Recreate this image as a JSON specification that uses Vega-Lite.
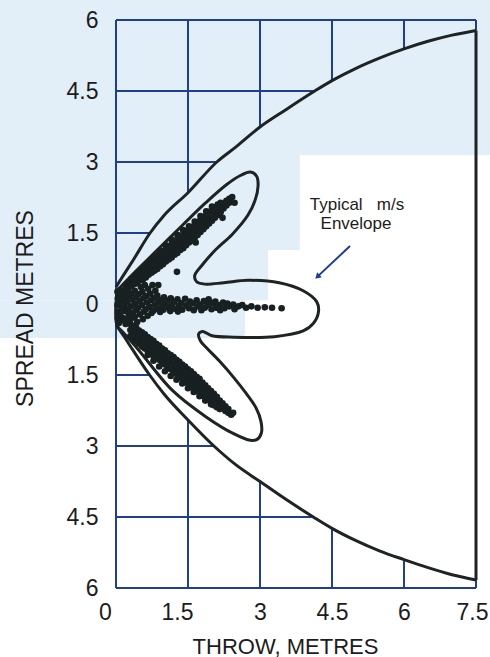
{
"$schema": "https://vega.github.io/schema/vega-lite/v6.json",
"width": 360,
"height": 568,
"autosize": {"type": "none"},
"padding": {"left": 116, "top": 20, "right": 14, "bottom": 69},
"background": "white",
"view": {"stroke": null},
"config": {"font": "Liberation Sans"},
"datasets": {
"tint": [
{"x": -2.5, "x2": 8.0, "y": 3.15, "y2": 6.5},
{"x": -2.5, "x2": 3.83, "y": 1.14, "y2": 3.15},
{"x": -2.5, "x2": 3.17, "y": 0.08, "y2": 1.14},
{"x": -2.5, "x2": 2.69, "y": -0.72, "y2": 0.08}
],
"grid": [
{"x": 0, "x2": 0, "y": -6, "y2": 6},
{"x": 0, "x2": 7.5, "y": 6, "y2": 6},
{"x": 0, "x2": 7.5, "y": -6, "y2": -6},
{"x": 7.5, "x2": 7.5, "y": 5.78, "y2": 6},
{"x": 7.5, "x2": 7.5, "y": -5.83, "y2": -6},
{"x": 1.5, "x2": 1.5, "y": 2.35, "y2": 6},
{"x": 1.5, "x2": 1.5, "y": -2.45, "y2": -6},
{"x": 3, "x2": 3, "y": 3.74, "y2": 6},
{"x": 3, "x2": 3, "y": -3.75, "y2": -6},
{"x": 4.5, "x2": 4.5, "y": 4.72, "y2": 6},
{"x": 4.5, "x2": 4.5, "y": -4.74, "y2": -6},
{"x": 6, "x2": 6, "y": 5.39, "y2": 6},
{"x": 6, "x2": 6, "y": -5.4, "y2": -6},
{"x": 0, "x2": 0.71, "y": 1.5, "y2": 1.5},
{"x": 0, "x2": 0.70, "y": -1.5, "y2": -1.5},
{"x": 0, "x2": 2.10, "y": 3, "y2": 3},
{"x": 0, "x2": 2.04, "y": -3, "y2": -3},
{"x": 0, "x2": 4.14, "y": 4.5, "y2": 4.5},
{"x": 0, "x2": 4.11, "y": -4.5, "y2": -4.5}
],
"edge": [{"x": 7.5, "x2": 7.5, "y": 5.78, "y2": -5.83}],
"env": [
{"s": "u", "x": 0, "y": 0.36}, {"s": "u", "x": 0.15, "y": 0.6}, {"s": "u", "x": 0.36, "y": 0.93}, {"s": "u", "x": 0.71, "y": 1.5},
{"s": "u", "x": 1.0, "y": 1.87}, {"s": "u", "x": 1.5, "y": 2.35}, {"s": "u", "x": 2.1, "y": 3.0}, {"s": "u", "x": 2.5, "y": 3.32},
{"s": "u", "x": 3.0, "y": 3.74}, {"s": "u", "x": 3.5, "y": 4.08}, {"s": "u", "x": 4.14, "y": 4.5}, {"s": "u", "x": 4.5, "y": 4.72},
{"s": "u", "x": 5.0, "y": 4.98}, {"s": "u", "x": 5.5, "y": 5.2}, {"s": "u", "x": 6.0, "y": 5.39}, {"s": "u", "x": 6.5, "y": 5.55},
{"s": "u", "x": 7.0, "y": 5.68}, {"s": "u", "x": 7.5, "y": 5.78},
{"s": "l", "x": 0, "y": -0.44}, {"s": "l", "x": 0.15, "y": -0.66}, {"s": "l", "x": 0.35, "y": -0.97}, {"s": "l", "x": 0.7, "y": -1.5},
{"s": "l", "x": 1.0, "y": -1.9}, {"s": "l", "x": 1.5, "y": -2.45}, {"s": "l", "x": 2.04, "y": -3.0}, {"s": "l", "x": 2.5, "y": -3.4},
{"s": "l", "x": 3.0, "y": -3.75}, {"s": "l", "x": 3.5, "y": -4.1}, {"s": "l", "x": 4.11, "y": -4.5}, {"s": "l", "x": 4.5, "y": -4.74},
{"s": "l", "x": 5.0, "y": -5.0}, {"s": "l", "x": 5.5, "y": -5.22}, {"s": "l", "x": 6.0, "y": -5.4}, {"s": "l", "x": 6.5, "y": -5.57},
{"s": "l", "x": 7.0, "y": -5.72}, {"s": "l", "x": 7.5, "y": -5.83}
],
"trident": [
{"o": 1, "x": 0.02, "y": 0.28}, {"o": 2, "x": 0.40, "y": 0.68}, {"o": 3, "x": 0.89, "y": 1.17}, {"o": 4, "x": 1.40, "y": 1.68},
{"o": 5, "x": 1.87, "y": 2.14}, {"o": 6, "x": 2.30, "y": 2.52}, {"o": 7, "x": 2.60, "y": 2.72}, {"o": 8, "x": 2.80, "y": 2.79},
{"o": 9, "x": 2.93, "y": 2.70}, {"o": 10, "x": 2.96, "y": 2.50}, {"o": 11, "x": 2.90, "y": 2.20}, {"o": 12, "x": 2.75, "y": 1.88},
{"o": 13, "x": 2.42, "y": 1.47}, {"o": 14, "x": 2.08, "y": 1.15}, {"o": 15, "x": 1.80, "y": 0.83}, {"o": 16, "x": 1.64, "y": 0.60},
{"o": 17, "x": 1.68, "y": 0.47}, {"o": 18, "x": 1.85, "y": 0.42}, {"o": 19, "x": 2.25, "y": 0.45}, {"o": 20, "x": 2.75, "y": 0.50},
{"o": 21, "x": 3.40, "y": 0.45}, {"o": 22, "x": 3.90, "y": 0.28}, {"o": 23, "x": 4.18, "y": 0.05}, {"o": 24, "x": 4.22, "y": -0.15},
{"o": 25, "x": 4.12, "y": -0.40}, {"o": 26, "x": 3.90, "y": -0.57}, {"o": 27, "x": 3.30, "y": -0.69}, {"o": 28, "x": 2.45, "y": -0.70},
{"o": 29, "x": 2.00, "y": -0.67}, {"o": 30, "x": 1.80, "y": -0.58}, {"o": 31, "x": 1.72, "y": -0.64}, {"o": 32, "x": 1.76, "y": -0.78},
{"o": 33, "x": 1.88, "y": -0.92}, {"o": 34, "x": 2.15, "y": -1.20}, {"o": 35, "x": 2.45, "y": -1.55}, {"o": 36, "x": 2.72, "y": -1.90},
{"o": 37, "x": 2.92, "y": -2.20}, {"o": 38, "x": 3.02, "y": -2.48}, {"o": 39, "x": 3.03, "y": -2.72}, {"o": 40, "x": 2.94, "y": -2.86},
{"o": 41, "x": 2.80, "y": -2.88}, {"o": 42, "x": 2.45, "y": -2.74}, {"o": 43, "x": 1.87, "y": -2.38}, {"o": 44, "x": 1.17, "y": -1.82},
{"o": 45, "x": 0.47, "y": -0.97}, {"o": 46, "x": 0.15, "y": -0.60}, {"o": 47, "x": 0.02, "y": -0.45}, {"o": 48, "x": 0.02, "y": 0.28}
],
"pts": [
{"x":0.20,"y":0.30},{"x":0.20,"y":0.40},
{"x":0.26,"y":0.34},{"x":0.26,"y":0.46},{"x":0.26,"y":0.40},
{"x":0.32,"y":0.38},{"x":0.32,"y":0.50},{"x":0.32,"y":0.53},
{"x":0.38,"y":0.42},{"x":0.38,"y":0.54},{"x":0.38,"y":0.58},
{"x":0.44,"y":0.44},{"x":0.44,"y":0.58},{"x":0.44,"y":0.64},{"x":0.44,"y":0.52},
{"x":0.50,"y":0.50},{"x":0.50,"y":0.62},{"x":0.50,"y":0.70},
{"x":0.56,"y":0.52},{"x":0.56,"y":0.66},{"x":0.56,"y":0.76},{"x":0.56,"y":0.60},
{"x":0.62,"y":0.56},{"x":0.62,"y":0.70},{"x":0.62,"y":0.82},
{"x":0.68,"y":0.62},{"x":0.68,"y":0.76},{"x":0.68,"y":0.88},{"x":0.68,"y":0.68},
{"x":0.74,"y":0.66},{"x":0.74,"y":0.80},{"x":0.74,"y":0.94},
{"x":0.80,"y":0.70},{"x":0.80,"y":0.84},{"x":0.80,"y":0.98},{"x":0.80,"y":1.00},
{"x":0.86,"y":0.74},{"x":0.86,"y":0.88},{"x":0.86,"y":1.02},{"x":0.86,"y":0.94},
{"x":0.92,"y":0.80},{"x":0.92,"y":0.94},{"x":0.92,"y":1.08},{"x":0.92,"y":1.12},
{"x":0.98,"y":0.84},{"x":0.98,"y":0.98},{"x":0.98,"y":1.12},{"x":0.98,"y":1.04},
{"x":1.04,"y":0.90},{"x":1.04,"y":1.04},{"x":1.04,"y":1.18},{"x":1.04,"y":1.24},
{"x":1.10,"y":0.94},{"x":1.10,"y":1.08},{"x":1.10,"y":1.22},{"x":1.10,"y":1.14},
{"x":1.16,"y":0.98},{"x":1.16,"y":1.12},{"x":1.16,"y":1.26},{"x":1.16,"y":1.36},
{"x":1.22,"y":1.04},{"x":1.22,"y":1.18},{"x":1.22,"y":1.32},{"x":1.22,"y":1.24},
{"x":1.28,"y":1.08},{"x":1.28,"y":1.22},{"x":1.28,"y":1.36},{"x":1.28,"y":1.46},
{"x":1.34,"y":1.14},{"x":1.34,"y":1.28},{"x":1.34,"y":1.42},{"x":1.34,"y":1.34},
{"x":1.40,"y":1.18},{"x":1.40,"y":1.32},{"x":1.40,"y":1.46},{"x":1.40,"y":1.56},
{"x":1.46,"y":1.24},{"x":1.46,"y":1.38},{"x":1.46,"y":1.52},{"x":1.46,"y":1.44},
{"x":1.52,"y":1.30},{"x":1.52,"y":1.42},{"x":1.52,"y":1.56},{"x":1.52,"y":1.64},
{"x":1.58,"y":1.34},{"x":1.58,"y":1.48},{"x":1.58,"y":1.62},{"x":1.58,"y":1.54},
{"x":1.64,"y":1.40},{"x":1.64,"y":1.52},{"x":1.64,"y":1.66},{"x":1.64,"y":1.74},
{"x":1.70,"y":1.46},{"x":1.70,"y":1.58},{"x":1.70,"y":1.72},{"x":1.70,"y":1.64},
{"x":1.76,"y":1.52},{"x":1.76,"y":1.64},{"x":1.76,"y":1.78},{"x":1.76,"y":1.86},
{"x":1.82,"y":1.58},{"x":1.82,"y":1.70},{"x":1.82,"y":1.82},{"x":1.82,"y":1.76},
{"x":1.88,"y":1.64},{"x":1.88,"y":1.76},{"x":1.88,"y":1.88},{"x":1.88,"y":1.96},
{"x":1.94,"y":1.70},{"x":1.94,"y":1.82},{"x":1.94,"y":1.94},
{"x":2.00,"y":1.76},{"x":2.00,"y":1.88},{"x":2.00,"y":2.00},{"x":2.00,"y":2.06},
{"x":2.06,"y":1.82},{"x":2.06,"y":1.94},{"x":2.06,"y":2.04},
{"x":2.12,"y":1.88},{"x":2.12,"y":2.00},{"x":2.12,"y":2.10},
{"x":2.18,"y":1.94},{"x":2.18,"y":2.06},{"x":2.18,"y":2.14},
{"x":2.24,"y":2.02},{"x":2.24,"y":2.12},
{"x":2.30,"y":2.08},{"x":2.30,"y":2.18},
{"x":2.36,"y":2.14},{"x":2.36,"y":2.22},
{"x":2.42,"y":2.26},
{"x":1.27,"y":0.68},{"x":0.88,"y":0.40},{"x":2.22,"y":1.82},{"x":1.66,"y":1.30},{"x":2.47,"y":2.14},
{"x":0.30,"y":-0.42},{"x":0.30,"y":-0.55},{"x":0.30,"y":-0.68},
{"x":0.36,"y":-0.47},{"x":0.36,"y":-0.60},{"x":0.36,"y":-0.72},{"x":0.36,"y":-0.52},
{"x":0.42,"y":-0.50},{"x":0.42,"y":-0.64},{"x":0.42,"y":-0.78},
{"x":0.48,"y":-0.56},{"x":0.48,"y":-0.70},{"x":0.48,"y":-0.84},{"x":0.48,"y":-0.62},
{"x":0.54,"y":-0.60},{"x":0.54,"y":-0.74},{"x":0.54,"y":-0.90},
{"x":0.60,"y":-0.64},{"x":0.60,"y":-0.80},{"x":0.60,"y":-0.94},{"x":0.60,"y":-0.72},
{"x":0.66,"y":-0.70},{"x":0.66,"y":-0.84},{"x":0.66,"y":-0.99},{"x":0.66,"y":-1.08},
{"x":0.72,"y":-0.74},{"x":0.72,"y":-0.88},{"x":0.72,"y":-1.04},{"x":0.72,"y":-0.96},
{"x":0.78,"y":-0.78},{"x":0.78,"y":-0.92},{"x":0.78,"y":-1.10},{"x":0.78,"y":-1.20},
{"x":0.84,"y":-0.84},{"x":0.84,"y":-0.98},{"x":0.84,"y":-1.14},{"x":0.84,"y":-1.06},
{"x":0.90,"y":-0.88},{"x":0.90,"y":-1.02},{"x":0.90,"y":-1.18},{"x":0.90,"y":-1.32},
{"x":0.96,"y":-0.94},{"x":0.96,"y":-1.08},{"x":0.96,"y":-1.24},{"x":0.96,"y":-1.16},
{"x":1.02,"y":-0.98},{"x":1.02,"y":-1.12},{"x":1.02,"y":-1.28},{"x":1.02,"y":-1.42},
{"x":1.08,"y":-1.04},{"x":1.08,"y":-1.18},{"x":1.08,"y":-1.34},{"x":1.08,"y":-1.24},
{"x":1.14,"y":-1.08},{"x":1.14,"y":-1.22},{"x":1.14,"y":-1.38},{"x":1.14,"y":-1.52},
{"x":1.20,"y":-1.12},{"x":1.20,"y":-1.28},{"x":1.20,"y":-1.44},{"x":1.20,"y":-1.36},
{"x":1.26,"y":-1.18},{"x":1.26,"y":-1.32},{"x":1.26,"y":-1.48},{"x":1.26,"y":-1.60},
{"x":1.32,"y":-1.22},{"x":1.32,"y":-1.38},{"x":1.32,"y":-1.52},{"x":1.32,"y":-1.44},
{"x":1.38,"y":-1.28},{"x":1.38,"y":-1.42},{"x":1.38,"y":-1.58},{"x":1.38,"y":-1.68},
{"x":1.44,"y":-1.32},{"x":1.44,"y":-1.48},{"x":1.44,"y":-1.62},{"x":1.44,"y":-1.54},
{"x":1.50,"y":-1.38},{"x":1.50,"y":-1.52},{"x":1.50,"y":-1.68},{"x":1.50,"y":-1.78},
{"x":1.56,"y":-1.42},{"x":1.56,"y":-1.58},{"x":1.56,"y":-1.72},{"x":1.56,"y":-1.64},
{"x":1.62,"y":-1.48},{"x":1.62,"y":-1.62},{"x":1.62,"y":-1.78},{"x":1.62,"y":-1.86},
{"x":1.68,"y":-1.54},{"x":1.68,"y":-1.68},{"x":1.68,"y":-1.82},{"x":1.68,"y":-1.74},
{"x":1.74,"y":-1.58},{"x":1.74,"y":-1.72},{"x":1.74,"y":-1.88},{"x":1.74,"y":-1.95},
{"x":1.80,"y":-1.66},{"x":1.80,"y":-1.78},{"x":1.80,"y":-1.92},{"x":1.80,"y":-1.84},
{"x":1.86,"y":-1.72},{"x":1.86,"y":-1.84},{"x":1.86,"y":-1.98},{"x":1.86,"y":-2.04},
{"x":1.92,"y":-1.78},{"x":1.92,"y":-1.90},{"x":1.92,"y":-2.02},
{"x":1.98,"y":-1.84},{"x":1.98,"y":-1.96},{"x":1.98,"y":-2.08},{"x":1.98,"y":-2.12},
{"x":2.04,"y":-1.90},{"x":2.04,"y":-2.02},{"x":2.04,"y":-2.14},
{"x":2.10,"y":-1.96},{"x":2.10,"y":-2.08},{"x":2.10,"y":-2.18},
{"x":2.16,"y":-2.04},{"x":2.16,"y":-2.14},{"x":2.16,"y":-2.22},
{"x":2.22,"y":-2.10},{"x":2.22,"y":-2.20},
{"x":2.28,"y":-2.16},{"x":2.28,"y":-2.26},
{"x":2.34,"y":-2.22},{"x":2.34,"y":-2.30},
{"x":2.40,"y":-2.34},{"x":2.44,"y":-2.30},
{"x":0.03,"y":0.26},{"x":0.04,"y":0.12},{"x":0.03,"y":-0.02},{"x":0.05,"y":-0.16},{"x":0.04,"y":-0.30},{"x":0.06,"y":-0.40},
{"x":0.09,"y":0.30},{"x":0.11,"y":0.19},{"x":0.10,"y":0.05},{"x":0.12,"y":-0.08},{"x":0.09,"y":-0.22},{"x":0.11,"y":-0.34},
{"x":0.16,"y":0.24},{"x":0.18,"y":0.12},{"x":0.17,"y":-0.02},{"x":0.19,"y":-0.15},{"x":0.16,"y":-0.30},{"x":0.20,"y":-0.42},
{"x":0.24,"y":0.30},{"x":0.26,"y":0.17},{"x":0.23,"y":0.04},{"x":0.25,"y":-0.10},{"x":0.27,"y":-0.22},{"x":0.24,"y":-0.34},
{"x":0.32,"y":0.22},{"x":0.34,"y":0.09},{"x":0.31,"y":-0.05},{"x":0.35,"y":-0.18},{"x":0.32,"y":-0.30},
{"x":0.39,"y":0.28},{"x":0.41,"y":0.14},{"x":0.40,"y":0.00},{"x":0.42,"y":-0.13},{"x":0.39,"y":-0.27},{"x":0.44,"y":-0.38},
{"x":0.47,"y":0.21},{"x":0.49,"y":0.07},{"x":0.46,"y":-0.08},{"x":0.50,"y":-0.22},{"x":0.52,"y":0.36},
{"x":0.55,"y":0.26},{"x":0.57,"y":0.12},{"x":0.54,"y":-0.02},{"x":0.58,"y":-0.16},{"x":0.56,"y":-0.32},{"x":0.60,"y":0.40},
{"x":0.63,"y":0.17},{"x":0.65,"y":0.03},{"x":0.62,"y":-0.11},{"x":0.66,"y":-0.25},{"x":0.67,"y":0.32},
{"x":0.71,"y":0.22},{"x":0.73,"y":0.08},{"x":0.70,"y":-0.06},{"x":0.74,"y":-0.19},{"x":0.76,"y":0.40},
{"x":0.79,"y":0.13},{"x":0.81,"y":-0.01},{"x":0.78,"y":-0.14},{"x":0.82,"y":0.28},
{"x":0.86,"y":0.18},{"x":0.88,"y":0.04},{"x":0.85,"y":-0.10},
{"x":0.93,"y":0.09},{"x":0.95,"y":-0.05},{"x":0.92,"y":-0.17},
{"x":1.00,"y":0.14},{"x":1.02,"y":0.01},{"x":0.99,"y":-0.12},
{"x":1.07,"y":0.07},{"x":1.09,"y":-0.07},
{"x":1.14,"y":0.12},{"x":1.16,"y":-0.02},{"x":1.13,"y":-0.15},
{"x":1.21,"y":0.04},{"x":1.23,"y":-0.10},
{"x":1.28,"y":0.10},{"x":1.31,"y":-0.04},{"x":1.29,"y":-0.16},
{"x":1.36,"y":0.02},{"x":1.38,"y":-0.12},
{"x":1.44,"y":0.11},{"x":1.46,"y":-0.03},
{"x":1.52,"y":-0.09},{"x":1.54,"y":0.05},
{"x":1.60,"y":0.01},{"x":1.62,"y":-0.13},
{"x":1.68,"y":0.08},{"x":1.70,"y":-0.05},
{"x":1.76,"y":-0.01},{"x":1.78,"y":-0.13},
{"x":1.83,"y":0.06},{"x":1.85,"y":-0.08},
{"x":1.91,"y":-0.02},{"x":1.93,"y":0.10},
{"x":1.99,"y":-0.11},{"x":2.01,"y":0.02},
{"x":2.07,"y":0.05},{"x":2.09,"y":-0.08},
{"x":2.15,"y":-0.02},{"x":2.17,"y":-0.13},
{"x":2.23,"y":0.03},{"x":2.26,"y":-0.09},
{"x":2.32,"y":0.01},{"x":2.36,"y":-0.05},
{"x":2.44,"y":-0.01},{"x":2.47,"y":-0.11},
{"x":2.55,"y":-0.05},{"x":2.63,"y":-0.02},{"x":2.71,"y":-0.08},{"x":2.82,"y":-0.05},{"x":2.95,"y":-0.08},{"x":3.10,"y":-0.07},{"x":3.25,"y":-0.08},{"x":3.45,"y":-0.09}
],
"arrow": [{"x": 4.875, "y": 1.225, "x2": 4.23, "y2": 0.61}],
"head": [{"x": 4.21, "y": 0.59}],
"notes": [
{"x": 5.02, "y": 2.09, "t": "Typical\u00a0\u00a0\u00a0m/s"},
{"x": 5.0, "y": 1.69, "t": "Envelope"}
]
},
"encoding": {
"x": {"field": "x", "type": "quantitative",
"scale": {"domain": [0, 7.5], "nice": false, "zero": false},
"axis": {"values": [0, 1.5, 3, 4.5, 6, 7.5], "labelExpr": "'' + datum.value", "grid": false, "domain": false, "ticks": false,
"labelFont": "Liberation Sans", "labelFontSize": 23, "labelColor": "#1c1c1c", "labelPadding": 13,
"labelFlush": false, "labelOverlap": false,
"labelOffset": {"condition": [{"test": "datum.value < 2", "value": -11}, {"test": "datum.value > 7", "value": -4}], "value": 0},
"title": "THROW, METRES", "titleFont": "Liberation Sans", "titleFontSize": 22, "titleFontWeight": "normal",
"titleColor": "#1c1c1c", "titleX": 169, "titleY": 65, "titleBaseline": "alphabetic", "titleAlign": "center",
"zindex": 1}},
"y": {"field": "y", "type": "quantitative",
"scale": {"domain": [-6, 6], "nice": false, "zero": false},
"axis": {"values": [-6, -4.5, -3, -1.5, 0, 1.5, 3, 4.5, 6], "grid": false, "domain": false, "ticks": false,
"labelExpr": "abs(datum.value)",
"labelFont": "Liberation Sans", "labelFontSize": 23, "labelColor": "#1c1c1c", "labelPadding": 18,
"labelAlign": "right", "labelBaseline": "middle", "labelFlush": false, "labelOverlap": false,
"title": "SPREAD METRES", "titleFont": "Liberation Sans", "titleFontSize": 23, "titleFontWeight": "normal",
"titleColor": "#1c1c1c", "titleAngle": -90, "titleX": -84, "titleY": 288, "titleBaseline": "alphabetic", "titleAlign": "center",
"zindex": 1}}
},
"layer": [
{"data": {"name": "tint"}, "mark": {"type": "rect", "color": "#e3eff8"},
"encoding": {"x2": {"field": "x2"}, "y2": {"field": "y2"}}},
{"data": {"name": "grid"}, "mark": {"type": "rule", "color": "#1f3e8e", "strokeWidth": 2},
"encoding": {"x2": {"field": "x2"}, "y2": {"field": "y2"}}},
{"data": {"name": "env"}, "mark": {"type": "line", "color": "#1e2323", "strokeWidth": 3, "interpolate": "monotone"},
"encoding": {"detail": {"field": "s"}}},
{"data": {"name": "edge"}, "mark": {"type": "rule", "color": "#1e2323", "strokeWidth": 3},
"encoding": {"x2": {"field": "x2"}, "y2": {"field": "y2"}}},
{"data": {"name": "trident"}, "mark": {"type": "line", "color": "#1e2323", "strokeWidth": 3, "interpolate": "catmull-rom"},
"encoding": {"order": {"field": "o", "type": "quantitative"}}},
{"data": {"name": "pts"}, "mark": {"type": "circle", "color": "#182022", "size": 44, "opacity": 1},
"encoding": {}},
{"data": {"name": "arrow"}, "mark": {"type": "rule", "color": "#1f3e8e", "strokeWidth": 2},
"encoding": {"x2": {"field": "x2"}, "y2": {"field": "y2"}}},
{"data": {"name": "head"}, "mark": {"type": "point", "shape": "triangle", "filled": true, "color": "#1f3e8e", "size": 45, "angle": 226, "opacity": 1},
"encoding": {}},
{"data": {"name": "notes"}, "mark": {"type": "text", "font": "Liberation Sans", "fontSize": 17, "color": "#1c1c1c", "align": "center", "baseline": "middle"},
"encoding": {"text": {"field": "t"}}}
]
}
